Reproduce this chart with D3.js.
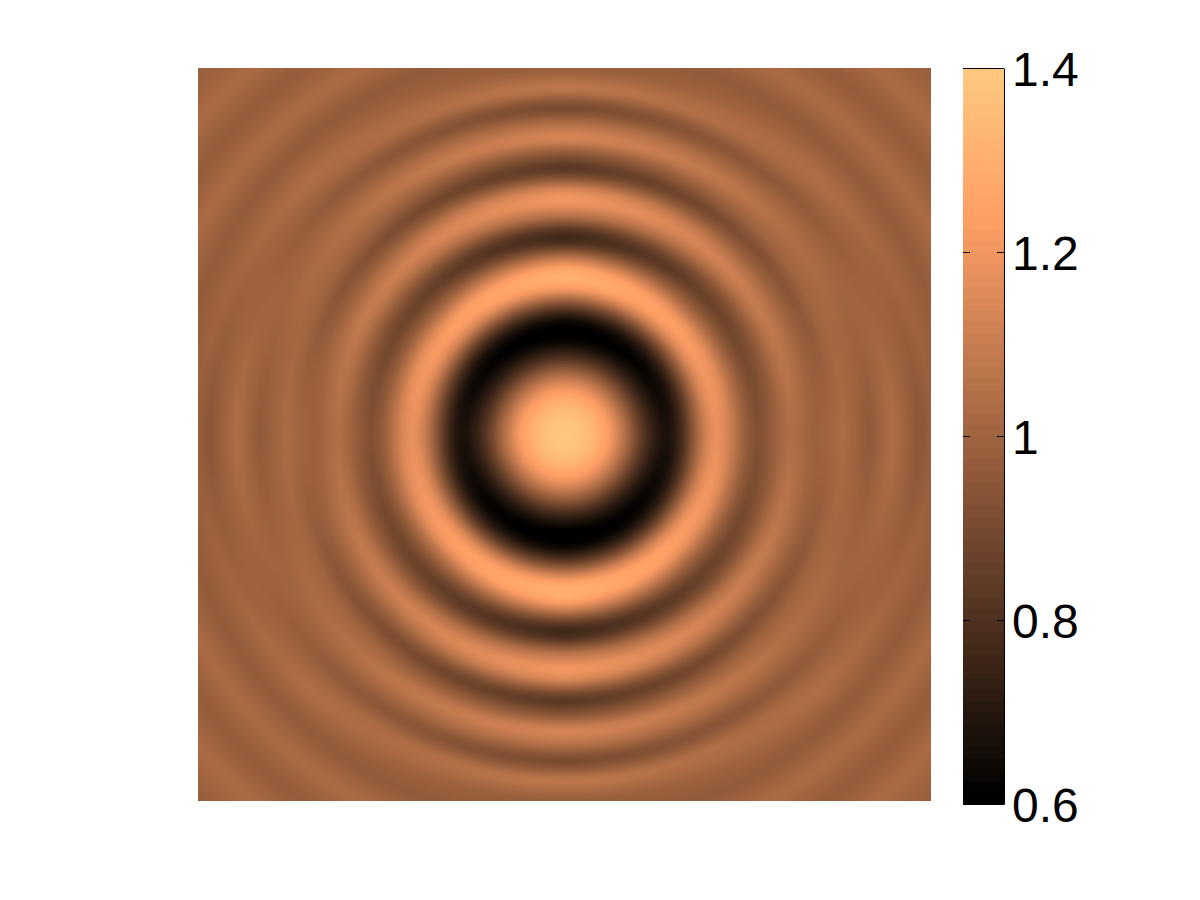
<!DOCTYPE html>
<html>
<head>
<meta charset="utf-8">
<script src="https://cdn.jsdelivr.net/npm/d3@7"></script>
<style>
  body { margin: 0; background: #fff; }
  .cbar text { font-family: "Liberation Sans", Arial, sans-serif; font-size: 48px; fill: #000; }
</style>
</head>
<body>
<div id="chart"></div>
<script>
// radial profiles: radius (image px) -> value, along 3 directions
const radiiSide = [0,15,30,45,55,65,75,85,95,102,110,120,130,140,150,160,170,182,193,208,226,249,279,305,328,355,366,390,420,450,481,518];
const valuesSide = [1.40,1.39,1.33,1.23,1.11,.99,.86,.76,.69,.66,.70,.82,.98,1.11,1.19,1.16,1.07,.97,.92,.98,1.05,.985,1.035,.955,1.05,.94,.98,.97,1.03,.98,1.03,1.0];

const radiiDiag = [0,15,30,45,55,65,75,85,95,101,110,120,130,140,151,162,172,185,196,208,220,232,245,255,266,280,300,316,330,345,360,378,391,405,420,435,450,466,481,500,518];
const valuesDiag = [1.40,1.39,1.33,1.22,1.10,.97,.83,.71,.63,.60,.64,.76,.94,1.14,1.25,1.21,1.07,.93,.85,.92,1.05,1.13,1.05,.97,.91,1.0,1.06,1.01,.96,1.01,1.05,1.0,.965,1.0,1.035,1.0,.97,1.0,1.035,1.0,.98];

const radiiTop = [0,15,30,45,55,65,75,85,95,103,112,120,130,140,147,155,165,175,185,192,198,206,218,234,245,256,266,280,296,310,326,336,346,358,366,390,420,450,481,518];
const valuesTop = [1.40,1.39,1.33,1.22,1.10,.97,.82,.70,.60,.58,.61,.72,.90,1.12,1.25,1.33,1.29,1.12,.90,.78,.74,.83,1.06,1.23,1.16,.94,.80,.94,1.16,1.06,.88,.98,1.10,1.02,.97,.96,1.04,.97,1.03,1.0];

const colorTicks = [0.6, 0.8, 1, 1.2, 1.4];
const colorLevels = 64;

// layout
const width = 1200;
const height = 900;
const extent = 366.5; // half width of the image in px
const x = d3.scaleLinear().domain([-extent, extent]).range([198, 931]);
const y = d3.scaleLinear().domain([extent, -extent]).range([68, 801]);
const cbarY = d3.scaleLinear().domain([0.6, 1.4]).range([804, 68]);
const cbarLeft = 963;
const cbarRight = 1004;

// matlab copper between 0.6 and 1.4, red saturates at 1.24
const copper = d3.scaleLinear()
    .domain([0.6, 1.24, 1.4])
    .range(["#000000", "#ff9f66", "#ffc77f"])
    .clamp(true);

const sideScale = d3.scaleLinear().domain(radiiSide).range(valuesSide).clamp(true);
const diagScale = d3.scaleLinear().domain(radiiDiag).range(valuesDiag).clamp(true);
const topScale = d3.scaleLinear().domain(radiiTop).range(valuesTop).clamp(true);

function fieldAt(r, a) {
    if (a < 45) {
        const w = a / 45;
        return sideScale(r) * (1 - w) + diagScale(r) * w;
    }
    const w = (a - 45) / 45;
    return diagScale(r) * (1 - w) + topScale(r) * w;
}

// small radial average so the ring crests are round, not pointed
function fieldValue(dx, dy) {
    const r = Math.hypot(dx, dy);
    const a = Math.atan2(Math.abs(dy), Math.abs(dx)) * 180 / Math.PI;
    return 0.25 * fieldAt(Math.abs(r - 4), a) + 0.5 * fieldAt(r, a) + 0.25 * fieldAt(r + 4, a);
}

// paint the field at low res, the browser smooths it when the image is scaled up
const cellSize = 3;
const n = Math.round((x.range()[1] - x.range()[0]) / cellSize);
const canvas = document.createElement("canvas");
canvas.width = n;
canvas.height = n;
const ctx = canvas.getContext("2d");
const img = ctx.createImageData(n, n);
const cell = d3.scaleLinear().domain([0, n]).range([-extent, extent]);
for (let j = 0; j < n; j++) {
    for (let i = 0; i < n; i++) {
        const c = d3.rgb(copper(fieldValue(cell(i + 0.5), cell(j + 0.5))));
        const k = (j * n + i) * 4;
        img.data[k] = c.r;
        img.data[k + 1] = c.g;
        img.data[k + 2] = c.b;
        img.data[k + 3] = 255;
    }
}
ctx.putImageData(img, 0, 0);

const svg = d3.select("#chart")
    .append("svg")
    .attr("width", width)
    .attr("height", height);

svg.append("image")
    .attr("x", x(-extent))
    .attr("y", y(extent))
    .attr("width", x(extent) - x(-extent))
    .attr("height", y(-extent) - y(extent))
    .attr("preserveAspectRatio", "none")
    .attr("href", canvas.toDataURL());

// colorbar
const levels = d3.range(colorLevels).map(d => 0.6 + 0.8 * d / (colorLevels - 1));
const band = 736 / colorLevels;
svg.append("g")
    .attr("class", "levels")
    .selectAll("rect")
    .data(levels)
    .enter()
    .append("rect")
    .attr("x", cbarLeft)
    .attr("width", cbarRight - cbarLeft)
    .attr("y", (d, i) => cbarY(0.6) - (i + 1) * band)
    .attr("height", band + 0.5)
    .attr("fill", d => copper(d));

const cbar = svg.append("g").attr("class", "cbar");

cbar.append("g")
    .attr("transform", `translate(${cbarRight},0)`)
    .call(d3.axisRight(cbarY).tickValues(colorTicks).tickFormat(d3.format("~g")).tickSizeInner(-7).tickSizeOuter(0).tickPadding(8))
    .call(g => g.selectAll("text").attr("dy", "0.36em"));

cbar.append("g")
    .attr("transform", `translate(${cbarLeft},0)`)
    .call(d3.axisLeft(cbarY).tickValues(colorTicks).tickFormat("").tickSizeInner(-7).tickSizeOuter(0))
    .call(g => g.select(".domain").remove());

cbar.selectAll(".domain, .tick line").attr("stroke", "#000").attr("stroke-width", 1);

cbar.selectAll(".frame")
    .data([1.4, 0.6])
    .enter()
    .append("line")
    .attr("class", "frame")
    .attr("x1", cbarLeft)
    .attr("x2", cbarRight)
    .attr("y1", d => cbarY(d) + 0.5)
    .attr("y2", d => cbarY(d) + 0.5)
    .attr("stroke", "#000");
</script>
</body>
</html>
